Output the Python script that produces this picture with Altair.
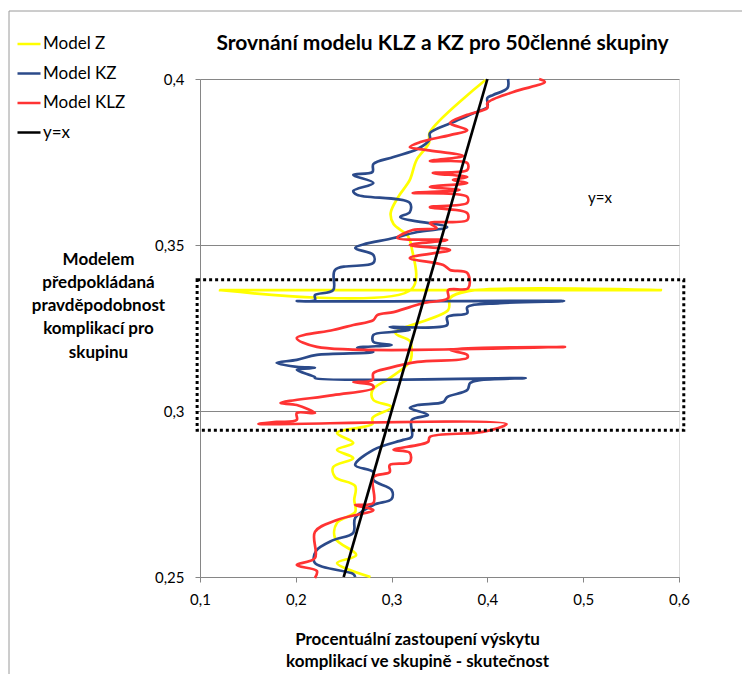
import altair as alt
import pandas as pd

series_names = ["Model Z", "Model KZ", "Model KLZ", "y=x"]
series_colors = ["#FFFF00", "#2B4A8A", "#FF3333", "#000000"]

# Model Z (yellow), listed from top (y=0.4) to bottom (y=0.25)
z_x = [0.398, 0.340, 0.339, 0.326, 0.319, 0.307, 0.299, 0.302, 0.317, 0.321,
       0.321, 0.121, 0.581, 0.380, 0.361, 0.359, 0.304, 0.319, 0.321, 0.319,
       0.298, 0.280, 0.281, 0.300, 0.280, 0.280, 0.243, 0.260, 0.243, 0.260,
       0.239, 0.241, 0.262, 0.261, 0.262, 0.243, 0.241, 0.263, 0.243, 0.278]
z_y = [0.3997, 0.3840, 0.3807, 0.3756, 0.3696, 0.3645, 0.3596, 0.3563, 0.3527, 0.3491,
       0.3367, 0.3364, 0.3364, 0.3361, 0.3340, 0.3304, 0.3235, 0.3211, 0.3178, 0.3148,
       0.3099, 0.3063, 0.3033, 0.3012, 0.2979, 0.2961, 0.2934, 0.2904, 0.2883, 0.2858,
       0.2831, 0.2801, 0.2774, 0.2732, 0.2696, 0.2663, 0.2617, 0.2566, 0.2542, 0.2500]

# Model KZ (blue)
kz_x = [0.4215, 0.421, 0.406, 0.400, 0.400, 0.389, 0.364, 0.340, 0.340, 0.327,
        0.302, 0.281, 0.280, 0.260, 0.281, 0.260, 0.264, 0.319, 0.319, 0.309,
        0.358, 0.327, 0.302, 0.262, 0.281, 0.281, 0.241, 0.239, 0.220, 0.220,
        0.201, 0.480, 0.413, 0.379, 0.379, 0.358, 0.358, 0.298, 0.319, 0.300,
        0.281, 0.281, 0.300, 0.264, 0.281, 0.222, 0.201, 0.180, 0.201, 0.220,
        0.201, 0.220, 0.220, 0.440, 0.392, 0.382, 0.379, 0.358, 0.354, 0.327,
        0.319, 0.338, 0.321, 0.321, 0.312, 0.281, 0.262, 0.281, 0.281, 0.300,
        0.300, 0.281, 0.262, 0.260, 0.239, 0.221, 0.220, 0.260, 0.262]
kz_y = [0.4000, 0.3973, 0.3952, 0.3943, 0.3916, 0.3901, 0.3870, 0.3837, 0.3819, 0.3789,
        0.3765, 0.3744, 0.3720, 0.3711, 0.3687, 0.3663, 0.3651, 0.3627, 0.3599, 0.3584,
        0.3554, 0.3539, 0.3521, 0.3491, 0.3470, 0.3446, 0.3425, 0.3364, 0.3349, 0.3334,
        0.3331, 0.3331, 0.3325, 0.3313, 0.3295, 0.3283, 0.3259, 0.3253, 0.3244, 0.3238,
        0.3229, 0.3208, 0.3199, 0.3190, 0.3178, 0.3169, 0.3154, 0.3145, 0.3133, 0.3130,
        0.3124, 0.3102, 0.3099, 0.3099, 0.3093, 0.3084, 0.3063, 0.3042, 0.3027, 0.3018,
        0.3009, 0.2988, 0.2973, 0.2922, 0.2913, 0.2883, 0.2837, 0.2816, 0.2792, 0.2762,
        0.2735, 0.2717, 0.2678, 0.2633, 0.2611, 0.2578, 0.2542, 0.2509, 0.2500]

# Model KLZ (red)
klz_x = [0.454, 0.460, 0.427, 0.400, 0.400, 0.379, 0.361, 0.379, 0.361, 0.330,
         0.319, 0.337, 0.375, 0.340, 0.379, 0.379, 0.343, 0.379, 0.364, 0.379,
         0.340, 0.371, 0.322, 0.364, 0.379, 0.379, 0.340, 0.379, 0.379, 0.340,
         0.347, 0.322, 0.306, 0.358, 0.319, 0.361, 0.319, 0.354, 0.361, 0.379,
         0.380, 0.359, 0.359, 0.333, 0.319, 0.302, 0.285, 0.281, 0.260, 0.239,
         0.201, 0.222, 0.481, 0.361, 0.379, 0.379, 0.327, 0.298, 0.281, 0.280,
         0.260, 0.280, 0.281, 0.239, 0.184, 0.201, 0.220, 0.201, 0.201, 0.180,
         0.161, 0.420, 0.395, 0.340, 0.338, 0.302, 0.319, 0.319, 0.298, 0.298,
         0.281, 0.281, 0.262, 0.281, 0.243, 0.220, 0.220, 0.201, 0.222, 0.220]
klz_y = [0.4000, 0.3991, 0.3961, 0.3928, 0.3913, 0.3892, 0.3867, 0.3846, 0.3831, 0.3810,
         0.3795, 0.3786, 0.3768, 0.3753, 0.3747, 0.3726, 0.3717, 0.3705, 0.3696, 0.3687,
         0.3675, 0.3666, 0.3657, 0.3654, 0.3645, 0.3627, 0.3614, 0.3596, 0.3575, 0.3566,
         0.3551, 0.3545, 0.3521, 0.3515, 0.3500, 0.3485, 0.3461, 0.3440, 0.3425, 0.3416,
         0.3370, 0.3364, 0.3340, 0.3325, 0.3313, 0.3298, 0.3289, 0.3274, 0.3259, 0.3244,
         0.3220, 0.3193, 0.3193, 0.3184, 0.3169, 0.3160, 0.3148, 0.3130, 0.3114, 0.3093,
         0.3087, 0.3078, 0.3069, 0.3048, 0.3024, 0.3018, 0.2994, 0.2994, 0.2973, 0.2967,
         0.2961, 0.2961, 0.2937, 0.2922, 0.2907, 0.2883, 0.2874, 0.2846, 0.2837, 0.2816,
         0.2801, 0.2723, 0.2717, 0.2702, 0.2672, 0.2636, 0.2557, 0.2536, 0.2518, 0.2497]

# y = x reference
yx_x = [0.25, 0.40]
yx_y = [0.25, 0.40]

# dotted highlight box (data units)
box_x = [0.097]
box_x2 = [0.605]
box_y = [0.2942]
box_y2 = [0.3395]

x_ticks = [0.1, 0.2, 0.3, 0.4, 0.5, 0.6]
y_ticks = [0.25, 0.3, 0.35, 0.4]

FONT = "Lato"


def frame(name, xs, ys):
    return pd.DataFrame({"series": name, "x": xs, "y": ys, "i": range(len(xs))})


color_scale = alt.Scale(domain=series_names, range=series_colors)
x_scale = alt.Scale(domain=[0.1, 0.6], nice=False, zero=False)
y_scale = alt.Scale(domain=[0.25, 0.4], nice=False, zero=False)

label_expr = "replace(format(datum.value, '.2~f'), '.', ',')"

x_axis = alt.Axis(
    values=x_ticks, labelExpr=label_expr, grid=False, labelFlush=False,
    domainColor="#868686", tickColor="#868686", tickSize=5,
    labelFontSize=15, labelFont=FONT, labelColor="#000000", labelPadding=10,
    title=["Procentuální zastoupení výskytu", "komplikací ve skupině - skutečnost"],
    titleFont=FONT, titleFontSize=17, titleFontWeight="bold", titleColor="#000000",
    titleLineHeight=22, titlePadding=24, titleX=217, titleAnchor="middle",
)
y_axis = alt.Axis(
    values=y_ticks, labelExpr=label_expr, grid=True, gridColor="#868686", labelFlush=False,
    domainColor="#868686", tickColor="#868686", tickSize=5,
    labelFontSize=15, labelFont=FONT, labelColor="#000000", labelPadding=11,
    title=["Modelem", "předpokládaná", "pravděpodobnost", "komplikací pro", "skupinu"],
    titleFont=FONT, titleFontSize=17, titleFontWeight="bold", titleColor="#000000",
    titleAngle=0, titleAlign="center", titleBaseline="alphabetic",
    titleLineHeight=23.3, titleX=-102, titleY=185,
)


def line_layer(name, xs, ys, width=2.7):
    return alt.Chart(frame(name, xs, ys)).mark_line(
        strokeWidth=width, interpolate="catmull-rom"
    ).encode(
        x=alt.X("x:Q", scale=x_scale, axis=x_axis),
        y=alt.Y("y:Q", scale=y_scale, axis=y_axis),
        order="i:Q",
        color=alt.Color(
            "series:N", scale=color_scale,
            legend=alt.Legend(
                title=None, orient="none", legendX=-184, legendY=-48,
                symbolType="stroke", symbolSize=529, symbolStrokeWidth=2.5,
                labelFont=FONT, labelFontSize=17, labelColor="#000000",
                rowPadding=8.5, padding=0, labelOffset=1,
            ),
        ),
    )


border = alt.Chart(pd.DataFrame({"a": [0]})).mark_rect(
    fill=None, stroke="#9a9a9a", strokeWidth=1
).encode(
    x=alt.value(-191), x2=alt.value(544), y=alt.value(-68), y2=alt.value(601)
)

box = alt.Chart(pd.DataFrame({"x": box_x, "x2": box_x2, "y": box_y, "y2": box_y2})).mark_rect(
    fill=None, stroke="#000000", strokeWidth=3, strokeDash=[3, 3]
).encode(x="x:Q", x2="x2:Q", y="y:Q", y2="y2:Q")

label = alt.Chart(pd.DataFrame({"x": [0.5175], "y": [0.3642], "t": ["y=x"]})).mark_text(
    font=FONT, fontSize=15, color="#000000"
).encode(x="x:Q", y="y:Q", text="t:N")

chart = alt.layer(
    border,
    line_layer("Model Z", z_x, z_y),
    line_layer("Model KZ", kz_x, kz_y),
    line_layer("Model KLZ", klz_x, klz_y),
    line_layer("y=x", yx_x, yx_y, 2.7),
    box,
    label,
).properties(
    width=479, height=498,
    autosize=alt.AutoSizeParams(type="none"),
    padding={"left": 192, "top": 71, "right": 63, "bottom": 97},
    title=alt.TitleParams(
        "Srovnání modelu KLZ a KZ pro 50členné skupiny",
        font=FONT, fontSize=21, fontWeight="bold", color="#000000",
        anchor="middle", frame="group", dx=3, offset=20, dy=80, baseline="alphabetic",
    ),
).configure_view(stroke=None).configure(background="#ffffff")

chart.save("out.html", embed_options={"renderer": "svg", "actions": False})
